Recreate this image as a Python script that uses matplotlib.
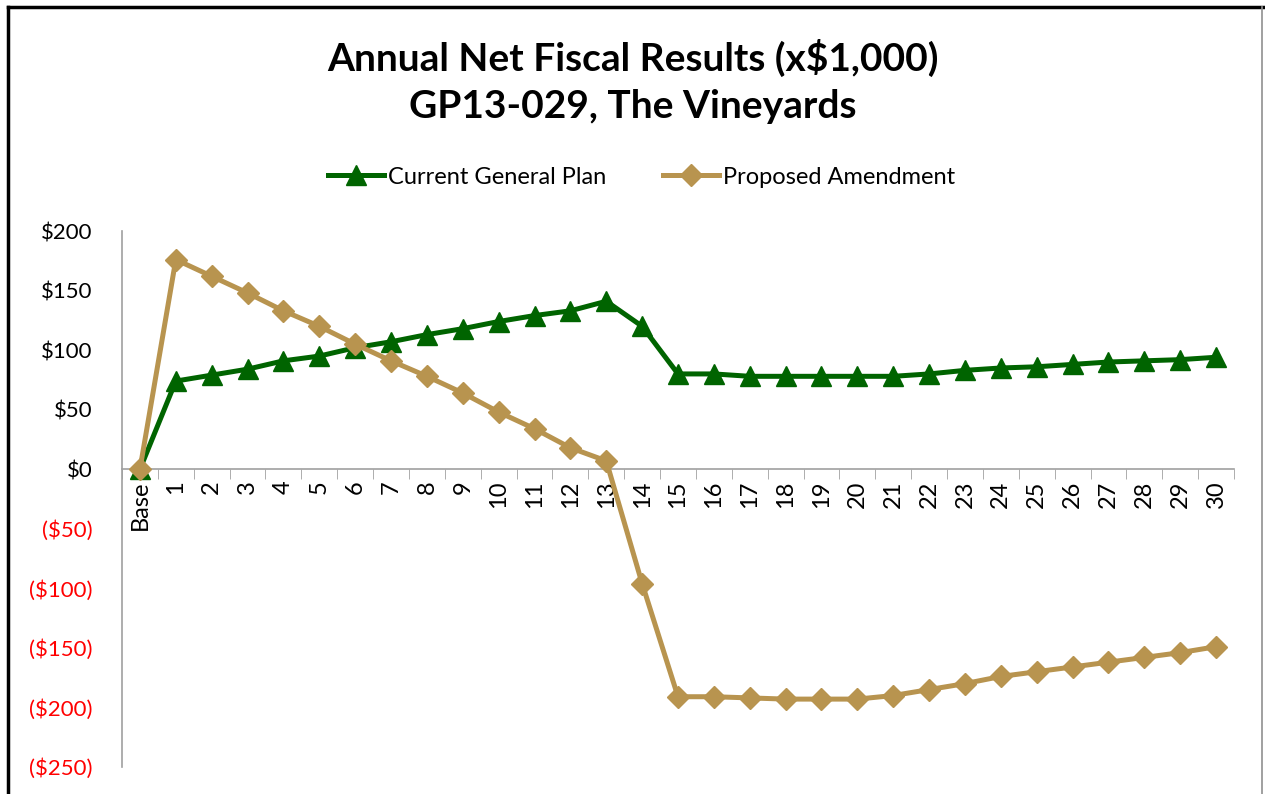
import numpy as np
import matplotlib
matplotlib.use("Agg")
import matplotlib.pyplot as plt
from matplotlib.ticker import FuncFormatter

# data (x $1,000)
years = ["Base"] + [str(i) for i in range(1, 31)]
current_plan = [0, 74, 79, 84, 91, 95, 102, 107, 113, 118, 124, 129, 133, 141, 120,
                80, 80, 78, 78, 78, 78, 78, 80, 83, 85, 86, 88, 90, 91, 92, 94]
proposed = [0, 176, 162, 148, 133, 120, 105, 91, 78, 64, 48, 34, 18, 7, -96,
            -191, -191, -192, -193, -193, -193, -190, -185, -180, -174, -170, -166,
            -162, -158, -154, -149]

GREEN = "#006400"
GOLD = "#B8944F"

plt.rcParams['font.family'] = ['Lato', 'DejaVu Sans']

fig = plt.figure(figsize=(12.65, 7.94), dpi=100)
ax = fig.add_axes([122 / 1265, 1 - 767 / 794, (1234 - 122) / 1265, (767 - 231) / 794])

x = np.arange(len(years))
ax.plot(x, current_plan, color=GREEN, lw=3.6, marker="^", ms=14,
        label="Current General Plan", zorder=3)
ax.plot(x, proposed, color=GOLD, lw=3.6, marker="D", ms=11,
        label="Proposed Amendment", zorder=4)

ax.set_xlim(-0.5, len(years) - 0.5)
ax.set_ylim(-250, 200)
ax.set_yticks(np.arange(-250, 201, 50))


def money(v, pos):
    v = int(round(v))
    return f"${v}" if v >= 0 else f"(${-v})"


ax.yaxis.set_major_formatter(FuncFormatter(money))
ax.tick_params(axis="y", length=0, pad=21, labelsize=16)
for lab in ax.get_yticklabels():
    if lab.get_text().startswith("("):
        lab.set_color("#FF0000")

# category labels, ticks at the boundaries like Excel
ax.set_xticks(x)
ax.set_xticklabels(years)
ax.tick_params(axis="x", which="major", length=0, pad=8, labelsize=17,
               labelrotation=90)
ax.set_xticks(np.arange(-0.5, len(years), 1), minor=True)
ax.tick_params(axis="x", which="minor", length=7, color="#A0A0A0", direction="out")

ax.spines["bottom"].set_position(("data", 0))
for s in ("top", "right"):
    ax.spines[s].set_visible(False)
for s in ("left", "bottom"):
    ax.spines[s].set_color("#A0A0A0")
    ax.spines[s].set_linewidth(1.2)

fig.text(0.5, 1 - 58 / 794, "Annual Net Fiscal Results (x$1,000)", ha="center",
         va="center", fontsize=28, fontweight="bold")
fig.text(0.5, 1 - 106 / 794, "GP13-029, The Vineyards", ha="center",
         va="center", fontsize=28, fontweight="bold")

fig.legend(loc="center", bbox_to_anchor=(0.507, 1 - 177 / 794), ncol=2,
           frameon=False, fontsize=17, handlelength=2.4, columnspacing=2.4,
           handletextpad=0.15)

# screenshot border
fig.add_artist(plt.Line2D([8 / 1265, 8 / 1265], [0, 1 - 7 / 794], color="black", lw=2.5))
fig.add_artist(plt.Line2D([8 / 1265, 1], [1 - 7 / 794, 1 - 7 / 794], color="black", lw=2.5))
fig.add_artist(plt.Line2D([1262 / 1265, 1262 / 1265], [0, 1 - 7 / 794], color="#909090", lw=1.2))

fig.savefig("out.png", dpi=100)
